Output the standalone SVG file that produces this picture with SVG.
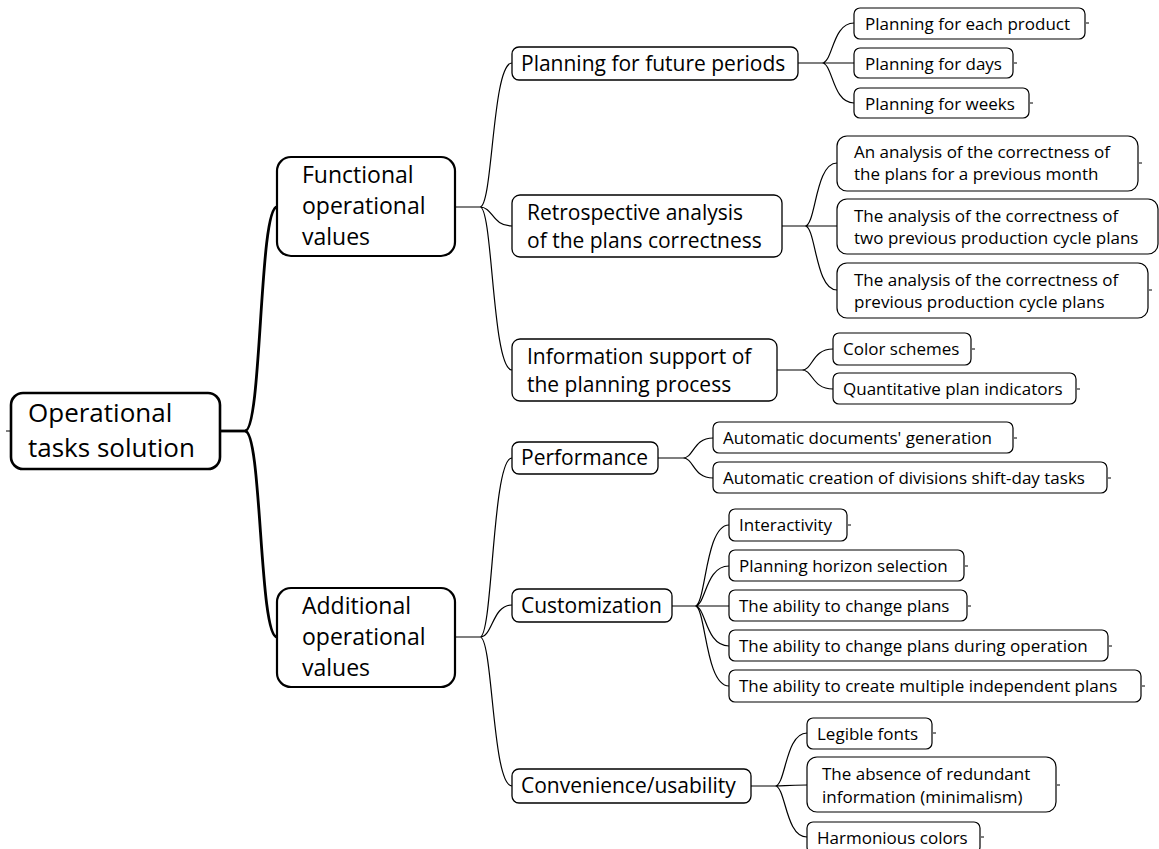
<svg xmlns="http://www.w3.org/2000/svg" width="1159" height="849" viewBox="0 0 1159 849">
<style>
text{font-family:"Open Sans","Liberation Sans",sans-serif;fill:#000}
.r0{fill:#fff;stroke:#000;stroke-width:2.6}
.r1{fill:#fff;stroke:#000;stroke-width:2.2}
.r2{fill:#fff;stroke:#000;stroke-width:1.3}
.r3{fill:#fff;stroke:#000;stroke-width:1.2}
.t0{font-size:26px}
.t1{font-size:23px}
.t2{font-size:21px}
.t3{font-size:17px}
.c0{fill:none;stroke:#000;stroke-width:2.8}
.c1{fill:none;stroke:#000;stroke-width:1.2}
.s{fill:none;stroke:#000;stroke-width:1}
</style>
<rect width="1159" height="849" fill="#fff"/>
<g id="connectors">
<path class="c0" d="M220,431 H245"/>
<path class="c0" d="M245,431 C262,431 259,207 277,207"/>
<path class="c0" d="M245,431 C262,431 259,637 277,637"/>
<path class="s" d="M6,431 H10"/>
<path class="c1" d="M455,207 H480 M480,207 C493,207 492,63 512,63 M480,207 C493,207 492,226 512,226 M480,207 C493,207 492,370 512,370"/>
<path class="c1" d="M455,637 H480 M480,637 C493,637 492,458 512,458 M480,637 C493,637 492,605 512,605 M480,637 C493,637 492,786 512,786"/>
<path class="c1" d="M798,63 H822 M822,63 C833,63 832,23 854,23 M822,63 H854 M822,63 C833,63 832,103 854,103"/>
<path class="c1" d="M782,226 H805 M805,226 C816,226 815,163 837,163 M805,226 H837 M805,226 C816,226 815,290 837,290"/>
<path class="c1" d="M777,370 H802 M802,370 C813,370 812,349 833,349 M802,370 C813,370 812,389 833,389"/>
<path class="c1" d="M658,458 H683 M683,458 C694,458 693,438 713,438 M683,458 C694,458 693,478 713,478"/>
<path class="c1" d="M672,606 H695 M695,606 C706,606 705,525 729,525 M695,606 C706,606 705,566 729,566 M695,606 H729 M695,606 C706,606 705,646 729,646 M695,606 C706,606 705,686 729,686"/>
<path class="c1" d="M751,786 H775 M775,786 C786,786 785,733 807,733 M775,786 C786,786 785,785 807,785 M775,786 C786,786 785,837 807,837"/>
<path class="s" d="M1086,23 H1089 M1014,63 H1017 M1030,103 H1033 M1139,163 H1142 M1149,290 H1152 M972,349 H975 M1077,389 H1080 M1014,438 H1017 M1108,478 H1111 M848,525 H851 M965,566 H968 M968,606 H971 M1109,646 H1112 M1142,686 H1145 M933,733 H936 M1057,785 H1060 M981,837 H984"/>
</g>
<g id="n-root"><rect class="r0" x="11" y="393" width="209" height="76" rx="12"/><text class="t0" x="28" y="422">Operational</text><text class="t0" x="28" y="457">tasks solution</text></g>
<g id="n-functional"><rect class="r1" x="277" y="157" width="178" height="99" rx="14"/><text class="t1" x="302" y="183">Functional</text><text class="t1" x="302" y="214">operational</text><text class="t1" x="302" y="245">values</text></g>
<g id="n-additional"><rect class="r1" x="277" y="588" width="178" height="99" rx="14"/><text class="t1" x="302" y="614">Additional</text><text class="t1" x="302" y="645">operational</text><text class="t1" x="302" y="676">values</text></g>
<g id="n-future"><rect class="r2" x="512" y="47" width="286" height="33" rx="7"/><text class="t2" x="521" y="71">Planning for future periods</text></g>
<g id="n-retro"><rect class="r2" x="512" y="195" width="270" height="62" rx="8"/><text class="t2" x="527" y="220">Retrospective analysis</text><text class="t2" x="527" y="248">of the plans correctness</text></g>
<g id="n-info"><rect class="r2" x="512" y="339" width="265" height="62" rx="8"/><text class="t2" x="527" y="364">Information support of</text><text class="t2" x="527" y="392">the planning process</text></g>
<g id="n-perf"><rect class="r2" x="512" y="442" width="146" height="32" rx="7"/><text class="t2" x="521" y="465">Performance</text></g>
<g id="n-custom"><rect class="r2" x="512" y="589" width="160" height="33" rx="7"/><text class="t2" x="521" y="613">Customization</text></g>
<g id="n-conv"><rect class="r2" x="512" y="769" width="239" height="34" rx="7"/><text class="t2" x="521" y="793">Convenience/usability</text></g>
<g id="n-each"><rect class="r3" x="854" y="8" width="231" height="31" rx="6"/><text class="t3" x="865" y="30">Planning for each product</text></g>
<g id="n-days"><rect class="r3" x="854" y="48" width="159" height="30" rx="6"/><text class="t3" x="865" y="70">Planning for days</text></g>
<g id="n-weeks"><rect class="r3" x="854" y="88" width="175" height="30" rx="6"/><text class="t3" x="865" y="110">Planning for weeks</text></g>
<g id="n-month"><rect class="r3" x="837" y="136" width="301" height="55" rx="10"/><text class="t3" x="854" y="158">An analysis of the correctness of</text><text class="t3" x="854" y="180">the plans for a previous month</text></g>
<g id="n-two"><rect class="r3" x="837" y="199" width="321" height="55" rx="10"/><text class="t3" x="854" y="222">The analysis of the correctness of</text><text class="t3" x="854" y="244">two previous production cycle plans</text></g>
<g id="n-prev"><rect class="r3" x="837" y="263" width="311" height="55" rx="10"/><text class="t3" x="854" y="286">The analysis of the correctness of</text><text class="t3" x="854" y="308">previous production cycle plans</text></g>
<g id="n-color"><rect class="r3" x="833" y="333" width="138" height="32" rx="6"/><text class="t3" x="843" y="355">Color schemes</text></g>
<g id="n-quant"><rect class="r3" x="833" y="373" width="243" height="31" rx="6"/><text class="t3" x="843" y="395">Quantitative plan indicators</text></g>
<g id="n-docs"><rect class="r3" x="713" y="422" width="300" height="31" rx="6"/><text class="t3" x="723" y="444">Automatic documents' generation</text></g>
<g id="n-tasks"><rect class="r3" x="713" y="462" width="394" height="31" rx="6"/><text class="t3" x="723" y="484">Automatic creation of divisions shift-day tasks</text></g>
<g id="n-inter"><rect class="r3" x="729" y="509" width="118" height="32" rx="6"/><text class="t3" x="739" y="531">Interactivity</text></g>
<g id="n-horizon"><rect class="r3" x="729" y="550" width="235" height="31" rx="6"/><text class="t3" x="739" y="572">Planning horizon selection</text></g>
<g id="n-change"><rect class="r3" x="729" y="590" width="238" height="31" rx="6"/><text class="t3" x="739" y="612">The ability to change plans</text></g>
<g id="n-during"><rect class="r3" x="729" y="630" width="379" height="31" rx="6"/><text class="t3" x="739" y="652">The ability to change plans during operation</text></g>
<g id="n-multi"><rect class="r3" x="729" y="670" width="412" height="32" rx="6"/><text class="t3" x="739" y="692">The ability to create multiple independent plans</text></g>
<g id="n-fonts"><rect class="r3" x="807" y="718" width="125" height="31" rx="6"/><text class="t3" x="817" y="740">Legible fonts</text></g>
<g id="n-absence"><rect class="r3" x="807" y="757" width="249" height="55" rx="10"/><text class="t3" x="822" y="780">The absence of redundant</text><text class="t3" x="822" y="803">information (minimalism)</text></g>
<g id="n-harm"><rect class="r3" x="807" y="822" width="173" height="31" rx="6"/><text class="t3" x="817" y="844">Harmonious colors</text></g>
</svg>
